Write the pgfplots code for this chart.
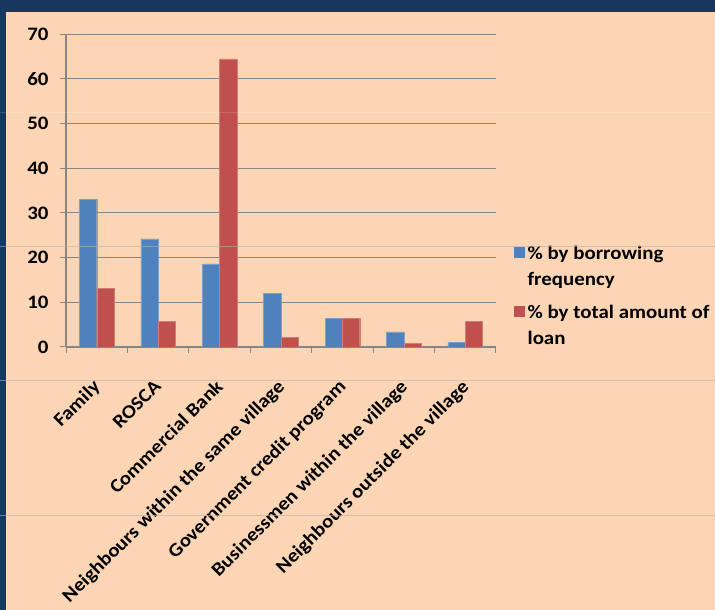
\documentclass[border=0pt]{standalone}
\usepackage{fontspec}
\setmainfont{Carlito}[FakeStretch=1.1]
\usepackage{pgfplots}
\pgfplotsset{compat=1.18}
\definecolor{bgpeach}{HTML}{FCD5B5}
\definecolor{navy}{HTML}{17375E}
\definecolor{sblue}{HTML}{4F81BD}
\definecolor{sred}{HTML}{C0504D}
\definecolor{gridgray}{HTML}{868686}
\begin{document}
\begin{tikzpicture}[x=1pt,y=1pt]
\useasboundingbox (0,0) rectangle (715,610);
\fill[bgpeach] (0,0) rectangle (715,610);
\fill[navy] (0,598) rectangle (715,610);
\fill[navy] (0,0) rectangle (6,610);
\begin{axis}[
  at={(66pt,263pt)}, anchor=south west,
  scale only axis, width=430pt, height=312.7pt,
  xmin=-0.5, xmax=6.5, ymin=0, ymax=70,
  ybar=0pt, bar width=17.3pt,
  axis x line*=bottom, axis y line*=left,
  axis line style={gridgray, line width=1.3pt},
  ytick={0,10,...,70},
  ymajorgrids, grid style={gridgray, line width=1pt},
  tick align=outside, major tick length=6pt, minor tick length=6pt,
  tick style={gridgray, line width=1pt},
  xtick={0,...,6},
  xticklabels={Family,ROSCA,Commercial Bank,Neighbours within the same village,Government credit program,Businessmen within the village,Neighbours outside the village},
  major x tick style={draw=none},
  minor xtick={-0.5,0.5,...,6.5},
  /pgf/number format/assume math mode=true,
  y tick label style={font=\fontsize{19}{22}\selectfont\bfseries, xshift=-8pt},
  x tick label style={rotate=45, anchor=north east, font=\fontsize{19}{22}\selectfont\bfseries, xshift=-18pt, yshift=-11pt},
  legend style={at={(1.0419,0.333)}, anchor=north west, draw=none, fill=none, inner sep=0pt,
    font=\fontsize{19}{26}\selectfont\bfseries, cells={anchor=west}, nodes={align=left, inner sep=3pt}, row sep=12pt},
]
\addplot[fill=sblue, draw=sblue!75!white, legend image code/.code={\fill[sblue] (0pt,9pt) rectangle (10pt,19pt);}]
  coordinates {(0,33.1)(1,24.2)(2,18.6)(3,12.0)(4,6.4)(5,3.4)(6,1.0)};
\addlegendentry{\% by borrowing\\frequency}
\addplot[fill=sred, draw=sred!75!white, legend image code/.code={\fill[sred] (0pt,9pt) rectangle (10pt,19pt);}]
  coordinates {(0,13.1)(1,5.8)(2,64.5)(3,2.2)(4,6.4)(5,0.8)(6,5.8)};
\addlegendentry{\% by total amount of\\loan}
\end{axis}
\draw[gray!60, line width=0.8pt, opacity=0.6] (0,364) -- (715,364);
\draw[gray!60, line width=0.8pt, opacity=0.6] (0,230) -- (715,230);
\draw[gray!60, line width=0.8pt, opacity=0.6] (0,95) -- (715,95);
\draw[white, line width=0.8pt, opacity=0.15] (0,498) -- (715,498);
\end{tikzpicture}
\end{document}
